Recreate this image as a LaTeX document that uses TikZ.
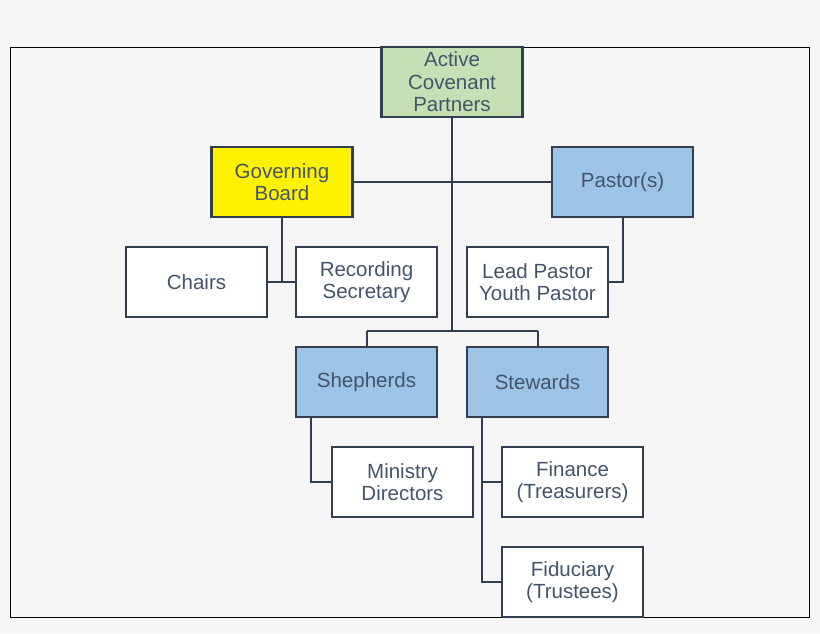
\documentclass[tikz,border=0pt]{standalone}
\usepackage{fontspec}
\setmainfont{Liberation Sans}
\usetikzlibrary{calc}
\definecolor{txt}{HTML}{44546A}
\definecolor{ln}{HTML}{333F50}
\definecolor{grn}{HTML}{C5E0B4}
\definecolor{blu}{HTML}{9DC3E6}
\tikzset{
  box/.style={draw=ln,line width=2.5pt,minimum width=141pt,minimum height=70pt,
    align=center,text=txt,font=\fontsize{20.5}{22.5}\selectfont,inner sep=0pt,fill=white},
  link/.style={draw=ln,line width=2.5pt}
}
\begin{document}
\begin{tikzpicture}[x=1pt,y=-1pt]
\fill[gray!7] (0,0) rectangle (820,633);
\draw[line width=1pt,fill=gray!7] (10,47) rectangle (809,617);
\useasboundingbox (0,0) rectangle (820,633);
% links first
\coordinate (hub) at (452,331);
\draw[link] (452,117) -- (hub);
\draw[link] (353,182) -- (552,182);
\draw[link] (367,331) -- (538,331);
\draw[link] (367,331) -- (367,347);
\draw[link] (538,331) -- (538,347);
\draw[link] (282,217) -- (282,282);
\draw[link] (267,282) -- (296,282);
\draw[link] (623,217) -- (623,282) -- (608,282);
\draw[link] (311,417) -- (311,482) -- (332,482);
\draw[link] (482,417) -- (482,582) -- (502,582);
\draw[link] (482,482) -- (502,482);
% boxes
\node[box,fill=grn] (acp) at (452,82) {Active\\Covenant\\Partners};
\node[box,fill=yellow] (board) at (282,182) {Governing\\Board};
\node[box,fill=blu] (pastors) at (622.5,182) {Pastor(s)};
\node[box] (chairs) at (196.5,282) {Chairs};
\node[box] (secretary) at (366.5,282) {Recording\\Secretary};
\node[box] (lead) at (537.5,282) {Lead Pastor\\Youth Pastor};
\node[box,fill=blu] (shepherds) at (366.5,382) {Shepherds};
\node[box,fill=blu] (stewards) at (537.5,382) {Stewards};
\node[box] (ministry) at (402.5,482) {Ministry\\Directors};
\node[box] (finance) at (572.5,482) {Finance\\(Treasurers)};
\node[box] (fiduciary) at (572.5,582) {Fiduciary\\(Trustees)};
\end{tikzpicture}
\end{document}
